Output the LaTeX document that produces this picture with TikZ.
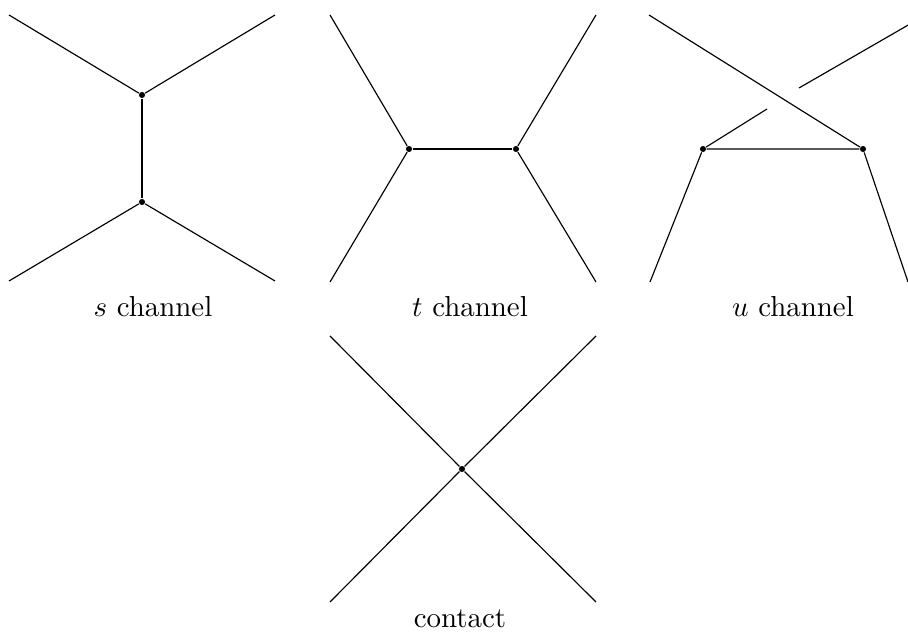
\documentclass[tikz,border=0pt]{standalone}
\usetikzlibrary{calc}
\tikzset{
  dot/.style={circle,fill=black,inner sep=0pt,minimum size=2.1pt},
  leg/.style={line width=0.4pt},
  lbl/.style={anchor=base,inner sep=0pt}
}
\begin{document}
\begin{tikzpicture}[x=0.346pt,y=-0.346pt]
\useasboundingbox (0,0) rectangle (908,641);
% s channel
\node[dot] (s1) at (142,95) {};
\node[dot] (s2) at (142,202) {};
\coordinate (sa) at (9,15);
\coordinate (sb) at (275,15);
\coordinate (sc) at (9,281);
\coordinate (sd) at (275,281);
\draw[leg] (sa) -- (s1) -- (sb);
\draw[leg] (sc) -- (s2) -- (sd);
\draw[leg] (s1) -- (s2);
\node[lbl] (sl) at (153,317) {$s$ channel};
% t channel
\node[dot] (t1) at (409,149) {};
\node[dot] (t2) at (516,149) {};
\coordinate (ta) at (330,15);
\coordinate (tb) at (330,282);
\coordinate (tc) at (596,15);
\coordinate (td) at (596,282);
\draw[leg] (ta) -- (t1) -- (tb);
\draw[leg] (tc) -- (t2) -- (td);
\draw[leg] (t1) -- (t2);
\node[lbl] (tl) at (470,317) {$t$ channel};
% u channel
\node[dot] (u1) at (703,149) {};
\node[dot] (u2) at (863,149) {};
\coordinate (ua) at (649,15);
\coordinate (ub) at (910,24);
\coordinate (ug1) at (799,88);
\coordinate (ug2) at (767,109);
\coordinate (uc) at (650,282);
\coordinate (ud) at (908,282);
\draw[leg] (ua) -- (u2);
\draw[leg] (ub) -- (ug1);
\draw[leg] (ug2) -- (u1);
\draw[leg] (uc) -- (u1) -- (u2) -- (ud);
\node[lbl] (ul) at (793,317) {$u$ channel};
% contact
\node[dot] (c0) at (462,469) {};
\coordinate (ca) at (330,336);
\coordinate (cb) at (596,602);
\coordinate (cc) at (596,336);
\coordinate (cd) at (330,602);
\draw[leg] (ca) -- (c0) -- (cb);
\draw[leg] (cc) -- (c0) -- (cd);
\node[lbl] (cl) at (460,628) {contact};
\end{tikzpicture}
\end{document}
